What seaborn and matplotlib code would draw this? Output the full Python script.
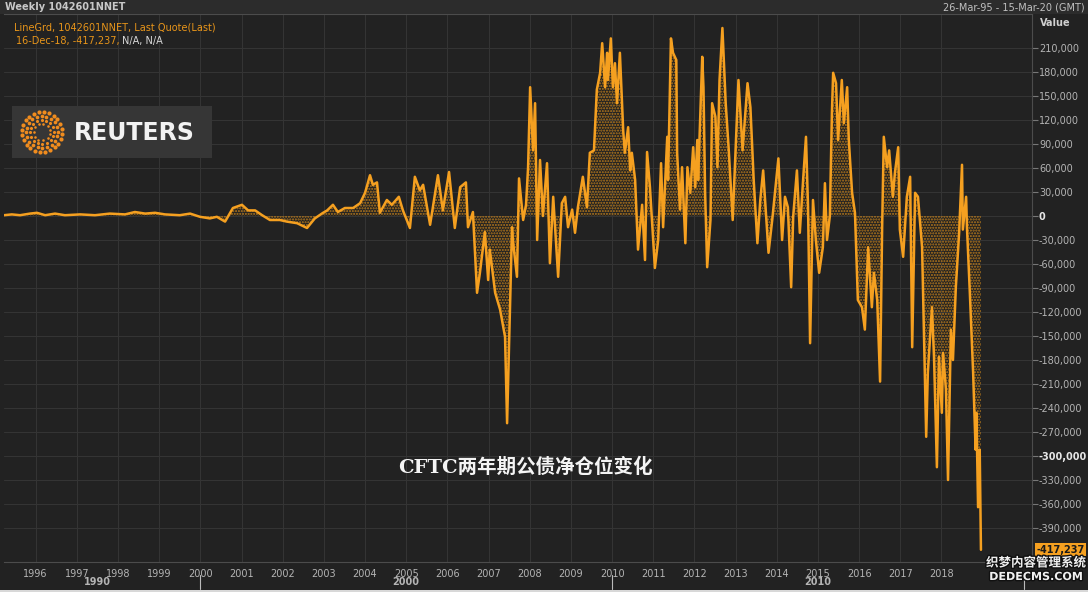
import numpy as np
import pandas as pd
import matplotlib
matplotlib.use("Agg")
import matplotlib.pyplot as plt
import matplotlib.patheffects as pe
import matplotlib.transforms as mtransforms
from matplotlib.patches import Rectangle
import seaborn as sns

# weekly CFTC 2-year note net position (thousands of contracts)
years = [1995.23, 1995.42, 1995.62, 1995.86, 1996.03, 1996.23, 1996.47, 1996.71, 1997.08, 1997.44,
         1997.80, 1998.17, 1998.41, 1998.66, 1998.90, 1999.14, 1999.50, 1999.75, 1999.99, 2000.23,
         2000.40, 2000.60, 2000.79, 2001.01, 2001.16, 2001.33, 2001.50, 2001.69, 2001.93, 2002.10,
         2002.35, 2002.59, 2002.78, 2002.98, 2003.08, 2003.22, 2003.34, 2003.51, 2003.71, 2003.88,
         2004.00, 2004.12, 2004.19, 2004.29, 2004.36, 2004.53, 2004.65, 2004.82, 2004.92, 2005.09,
         2005.21, 2005.33, 2005.41, 2005.58, 2005.77, 2005.89, 2006.04, 2006.18, 2006.31, 2006.45,
         2006.50, 2006.62, 2006.72, 2006.79, 2006.91, 2006.99, 2007.03, 2007.16, 2007.28, 2007.40,
         2007.45, 2007.52, 2007.57, 2007.59, 2007.69, 2007.74, 2007.84, 2007.91, 2007.96, 2008.01,
         2008.08, 2008.13, 2008.18, 2008.25, 2008.32, 2008.42, 2008.49, 2008.57, 2008.69, 2008.78,
         2008.86, 2008.93, 2009.03, 2009.10, 2009.17, 2009.29, 2009.39, 2009.46, 2009.56, 2009.63,
         2009.71, 2009.76, 2009.83, 2009.88, 2009.90, 2009.97, 2010.02, 2010.07, 2010.12, 2010.19,
         2010.27, 2010.31, 2010.39, 2010.44, 2010.48, 2010.56, 2010.63, 2010.73, 2010.80, 2010.85,
         2010.92, 2011.04, 2011.12, 2011.19, 2011.24, 2011.34, 2011.36, 2011.43, 2011.48, 2011.56,
         2011.58, 2011.65, 2011.70, 2011.78, 2011.83, 2011.90, 2011.97, 2012.02, 2012.07, 2012.09,
         2012.19, 2012.22, 2012.26, 2012.31, 2012.39, 2012.43, 2012.51, 2012.56, 2012.61, 2012.68,
         2012.76, 2012.83, 2012.93, 2013.00, 2013.07, 2013.17, 2013.29, 2013.36, 2013.44, 2013.53,
         2013.60, 2013.67, 2013.80, 2013.89, 2014.04, 2014.13, 2014.20, 2014.27, 2014.35, 2014.40,
         2014.49, 2014.56, 2014.64, 2014.71, 2014.76, 2014.81, 2014.88, 2014.95, 2015.03, 2015.12,
         2015.17, 2015.22, 2015.29, 2015.34, 2015.37, 2015.44, 2015.49, 2015.58, 2015.63, 2015.71,
         2015.75, 2015.83, 2015.90, 2015.97, 2016.07, 2016.14, 2016.22, 2016.31, 2016.36, 2016.44,
         2016.51, 2016.56, 2016.60, 2016.68, 2016.73, 2016.82, 2016.87, 2016.95, 2016.99, 2017.07,
         2017.16, 2017.24, 2017.29, 2017.36, 2017.43, 2017.53, 2017.58, 2017.63, 2017.67, 2017.77,
         2017.82, 2017.89, 2017.94, 2018.01, 2018.04, 2018.11, 2018.16, 2018.23, 2018.28, 2018.35,
         2018.43, 2018.50, 2018.52, 2018.60, 2018.62, 2018.69, 2018.77, 2018.83, 2018.85, 2018.89,
         2018.93, 2018.96]
net_k = [1, 2, 1, 3, 4, 1, 3, 1, 2, 1,
         3, 2, 5, 3, 4, 2, 1, 3, -1, -3,
         -1, -7, 10, 14, 7, 7, 1, -5, -5, -7,
         -9, -15, -3, 4, 7, 14, 5, 10, 10, 16,
         29, 51, 39, 42, 4, 20, 14, 24, 7, -15,
         49, 32, 39, -11, 51, 7, 55, -15, 36, 42,
         -14, 5, -96, -71, -20, -80, -42, -96, -117, -151,
         -259, -117, -14, -30, -76, 47, -5, 14, 61, 161,
         82, 141, -30, 70, 0, 66, -59, 24, -76, 16,
         24, -14, 8, -21, 11, 49, 11, 79, 82, 158,
         179, 216, 161, 204, 170, 222, 161, 191, 141, 204,
         107, 79, 111, 57, 79, 45, -42, 14, -55, 80,
         36, -65, -30, 66, -14, 99, 45, 222, 204, 195,
         79, 8, 61, -34, 61, 29, 86, 36, 95, 45,
         199, 161, 29, -64, -5, 141, 124, 61, 170, 235,
         141, 86, -5, 82, 170, 82, 166, 136, 45, -34,
         20, 57, -46, -5, 72, -30, 24, 11, -89, 0,
         57, -21, 45, 99, 11, -159, 20, -30, -71, -39,
         41, -30, 0, 129, 179, 166, 95, 170, 116, 161,
         95, 29, 4, -105, -114, -142, -39, -114, -71, -105,
         -207, -14, 99, 61, 82, 24, 54, 86, -17, -51,
         24, 49, -164, 29, 24, -39, -155, -276, -196, -114,
         -176, -314, -176, -246, -171, -217, -330, -142, -180, -89,
         -21, 64, -17, 24, -14, -96, -196, -292, -246, -364,
         -292, -417.237]

year_ticks = list(range(1996, 2019))
value_ticks = list(range(-390000, 210001, 30000))
decade_labels = ["1990", "2000", "2010"]
decade_centers = [1997.5, 2005.0, 2015.0]
decade_breaks = [2000, 2010, 2020]

df = pd.DataFrame({"year": years, "net": np.array(net_k) * 1000})
last_value = int(round(df["net"].iloc[-1]))

W, H = 1088, 592
bg = "#222222"
orange = "#f5a020"
txt = "#b4b4b4"

sns.set_style("darkgrid", rc={"axes.facecolor": bg, "figure.facecolor": bg,
                              "grid.color": "#343434", "grid.linewidth": 1.0,
                              "axes.edgecolor": "#4c4c4c"})
plt.rcParams["font.family"] = ["DejaVu Sans", "Noto Sans CJK SC"]
plt.rcParams["hatch.linewidth"] = 1.0


def fx(px):
    return px / W


def fy(py):
    return 1 - py / H


fig = plt.figure(figsize=(W / 100, H / 100), dpi=100)
ax = fig.add_axes([fx(4), fy(562), (1032 - 4) / W, (562 - 14) / H])

ax.fill_between(df["year"], df["net"], 0, facecolor="none", edgecolor="#b87a1c",
                hatch="......", linewidth=0)
sns.lineplot(data=df, x="year", y="net", color=orange, linewidth=1.8, ax=ax)

ax.set_xlim(1995.23, 2020.2)
ax.set_ylim(-432500, 252500)
ax.set_xlabel("")
ax.set_ylabel("")
ax.set_xticks(year_ticks)
ax.set_xticklabels([str(y) for y in year_ticks], fontsize=7, color=txt)
ax.set_yticks(value_ticks)
ax.set_yticklabels([f"{v:,}" for v in value_ticks], fontsize=7, color=txt)
ax.yaxis.tick_right()
ax.tick_params(axis="y", length=4, color="#777777", pad=1)
ax.tick_params(axis="x", length=3, color="#777777", pad=2, direction="out")
for lab in ax.get_yticklabels():
    if lab.get_text() in ("0", "-300,000"):
        lab.set_fontweight("bold")
        lab.set_color("#e6e6e6")
ax.spines["left"].set_visible(False)
for side in ("top", "bottom", "right"):
    ax.spines[side].set_visible(True)
    ax.spines[side].set_color("#4c4c4c")

# last value tag
trans = mtransforms.blended_transform_factory(ax.transAxes, ax.transData)
ax.text(1.004, last_value, f"{last_value:,}", transform=trans, fontsize=7, fontweight="bold",
        color="#1a1a1a", va="center", ha="left",
        bbox=dict(boxstyle="square,pad=0.15", facecolor=orange, edgecolor="none"))

# decade row under the year labels
tb = mtransforms.blended_transform_factory(ax.transData, ax.transAxes)
for lab, xc in zip(decade_labels, decade_centers):
    ax.text(xc, -0.037, lab, transform=tb, fontsize=7, fontweight="bold", color=txt,
            ha="center", va="center", clip_on=False)
for xb in decade_breaks:
    ax.plot([xb, xb], [-0.024, -0.05], transform=tb, color="#bbbbbb", lw=0.8, clip_on=False)

# header strip
fig.patches.append(Rectangle((0, fy(14)), 1, 14 / H, transform=fig.transFigure,
                             facecolor="#2c2c2c", edgecolor="none", zorder=0))
fig.patches.append(Rectangle((0, 0), 1, 2 / H, transform=fig.transFigure,
                             facecolor="#d8d8d8", edgecolor="none", zorder=0))
fig.text(fx(5), fy(7), "Weekly 1042601NNET", fontsize=7, fontweight="bold", color="#c8c8c8",
         va="center")
fig.text(fx(1085), fy(7), "26-Mar-95 - 15-Mar-20 (GMT)", fontsize=7, color="#c0c0c0",
         va="center", ha="right")
fig.text(fx(1040), fy(23), "Value", fontsize=7, fontweight="bold", color="#d0d0d0", va="center")
fig.text(fx(14), fy(28), "LineGrd, 1042601NNET, Last Quote(Last)", fontsize=7, color="#e8951a",
         va="center")
fig.text(fx(16), fy(41), "16-Dec-18, -417,237,", fontsize=7, color="#e8951a", va="center")
fig.text(fx(122), fy(41), "N/A, N/A", fontsize=7, color="#d8d8d8", va="center")

# logo
lg = fig.add_axes([fx(12), fy(158), 200 / W, 52 / H])
lg.set_facecolor("#363636")
lg.set_xlim(0, 200)
lg.set_ylim(0, 52)
lg.grid(False)
lg.set_xticks([])
lg.set_yticks([])
for s in lg.spines.values():
    s.set_visible(False)
for r, n, sz in [(20, 24, 9), (16, 20, 7), (12, 16, 5), (8.5, 11, 3.5)]:
    ang = np.linspace(0, 2 * np.pi, n, endpoint=False) + r * 0.1
    lg.scatter(30 + r * np.cos(ang), 26 + r * np.sin(ang), s=sz, color="#f08c1e",
               linewidths=0)
lg.text(62, 25, "REUTERS", fontsize=17, fontweight="bold", color="#f2f2f2", va="center",
        ha="left")

# caption
fig.text(fx(525), fy(467), "CFTC两年期公债净仓位变化", fontsize=14, fontweight="bold",
         color="#f4f4f4", ha="center", va="center",
         family=["DejaVu Serif", "Noto Sans CJK SC"])

# watermark
wm = [pe.withStroke(linewidth=2, foreground="#111111")]
fig.text(fx(1036), fy(563), "织梦内容管理系统", fontsize=9, fontweight="bold", color="#f0f0f0",
         ha="center", va="center", family=["Noto Sans CJK SC"], path_effects=wm)
fig.text(fx(1036), fy(577), "DEDECMS.COM", fontsize=8, fontweight="bold", color="#f0f0f0",
         ha="center", va="center", path_effects=wm)

fig.savefig("out.png", dpi=100, facecolor=bg)
